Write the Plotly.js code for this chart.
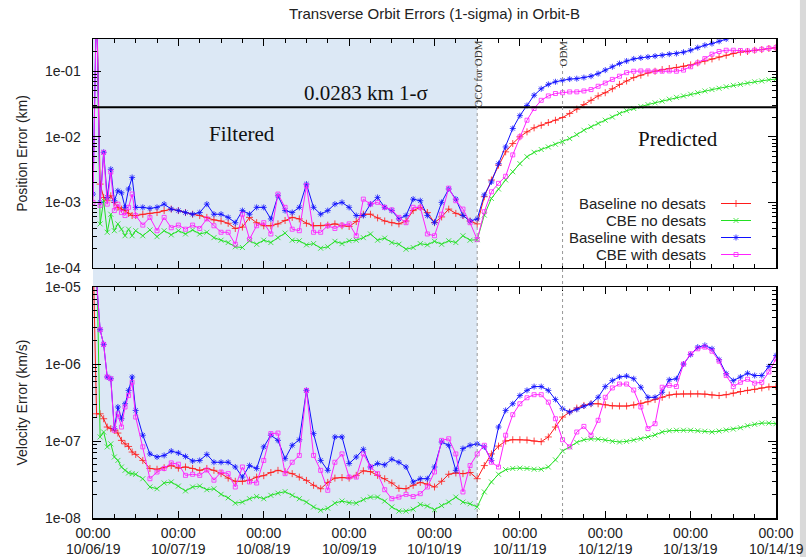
<!DOCTYPE html>
<html><head><meta charset="utf-8">
<script src="https://cdn.plot.ly/plotly-3.0.1.min.js"></script>
<style>html,body{margin:0;padding:0;background:#fff;}#chart{width:806px;height:557px;}</style>
</head><body><div id="chart"></div>
<script>
// time axis: hours since 10/06/19 00:00
const hours = [0,1,2,3,4,5,6,7,8,9,10,11,12,
14,16,18,20,22,24,26,28,30,32,34,36,38,40,42,44,46,48,50,52,54,56,58,60,62,64,66,68,70,72,74,76,78,80,82,84,86,88,90,92,94,96,98,100,102,104,106,108,
110,112,114,116,118,120,122,124,126,128,130,132,134,136,138,140,142,144,146,148,150,152,154,156,158,160,162,164,166,168,170,172,174,176,178,180,182,184,186,188,190,192];

// Position error (km)
const posBaseline = [1.5,1.5,1.9e-3,1.19e-3,1.06e-3,1.26e-3,1e-3,8.4e-4,7.9e-4,7.5e-4,6.8e-4,6.3e-4,6.3e-4,
6.6e-4,6.8e-4,7e-4,7.5e-4,7.9e-4,7.5e-4,7e-4,6.6e-4,6.3e-4,5.9e-4,
5.4e-4,5.2e-4,4.8e-4,4e-4,4.2e-4,5.9e-4,4.9e-4,4.4e-4,4.4e-4,4.7e-4,
5.3e-4,5.9e-4,5.6e-4,4.8e-4,4.4e-4,4.4e-4,4.5e-4,4.7e-4,4.4e-4,4.3e-4,
5.1e-4,6.6e-4,6.6e-4,5.8e-4,5.2e-4,4.9e-4,4.7e-4,5.2e-4,7.5e-4,8.4e-4,
7e-4,4.9e-4,6e-4,7.9e-4,6.8e-4,6.3e-4,5.2e-4,4.7e-4,
1.22e-3,2.19e-3,3.7e-3,5.9e-3,7.9e-3,1e-2,1.19e-2,1.37e-2,1.5e-2,1.65e-2,
1.79e-2,1.97e-2,2.27e-2,2.64e-2,3.1e-2,3.6e-2,4.2e-2,4.7e-2,5.4e-2,6.3e-2,
7.1e-2,8e-2,8.7e-2,9.4e-2,0.1,0.106,0.11,0.114,0.119,0.125,
0.134,0.143,0.154,0.165,0.175,0.186,0.195,0.2,0.209,0.214,0.222,0.229];

const posCBE = [1.5,1.5,4.7e-4,1.06e-3,3.5e-4,6.6e-4,3.7e-4,4.7e-4,3.9e-4,3.1e-4,3.9e-4,3.1e-4,3.7e-4,
3.1e-4,3.8e-4,3e-4,3.7e-4,3.2e-4,3.7e-4,3.3e-4,3.8e-4,3.3e-4,3.5e-4,
2.9e-4,2.65e-4,2.44e-4,2.1e-4,2.05e-4,2.6e-4,2.3e-4,2.65e-4,2.44e-4,2.9e-4,
3.4e-4,2.65e-4,2.6e-4,2.25e-4,2.35e-4,2e-4,2.1e-4,2.55e-4,2.35e-4,2.6e-4,
2.65e-4,2.9e-4,3.3e-4,2.65e-4,2.85e-4,2.44e-4,2.3e-4,1.93e-4,2.05e-4,2.35e-4,
2.25e-4,2.55e-4,2.3e-4,2.6e-4,2.44e-4,3.1e-4,2.65e-4,2.7e-4,
6.4e-4,1.15e-3,1.6e-3,2.2e-3,2.93e-3,3.9e-3,4.96e-3,5.8e-3,6.4e-3,7e-3,
7.7e-3,8.4e-3,9.4e-3,1.08e-2,1.26e-2,1.42e-2,1.6e-2,1.79e-2,2e-2,2.27e-2,
2.5e-2,2.7e-2,2.9e-2,3.1e-2,3.3e-2,3.5e-2,3.75e-2,4e-2,4.2e-2,4.46e-2,
4.7e-2,5e-2,5.25e-2,5.5e-2,5.8e-2,6.1e-2,6.3e-2,6.6e-2,6.9e-2,7.1e-2,7.4e-2,7.6e-2];

const posBaseDesat = [1.34e-3,1.5,1.0e-3,5.8e-3,1.19e-3,3.2e-3,1.06e-3,1.5e-3,1.4e-3,8.4e-4,1.6e-3,2.4e-3,8.4e-4,
8.4e-4,8.1e-4,8.4e-4,9.4e-4,7.9e-4,7.5e-4,7e-4,6.6e-4,7e-4,9.4e-4,
6.6e-4,6.6e-4,5.9e-4,4.9e-4,7.5e-4,6.6e-4,8.4e-4,8.4e-4,5.6e-4,1.26e-3,
7.5e-4,7e-4,8.4e-4,1.9e-3,8.4e-4,6.6e-4,7.5e-4,9.4e-4,1e-3,8.4e-4,
6.3e-4,6.3e-4,9.4e-4,1.19e-3,8.4e-4,7.5e-4,5.6e-4,6.3e-4,1.12e-3,1.06e-3,
6.3e-4,4.9e-4,1e-3,1.6e-3,1.12e-3,6.3e-4,5.2e-4,5.6e-4,
1.3e-3,2.05e-3,3.9e-3,7e-3,1.34e-2,2.1e-2,3e-2,4.3e-2,5.4e-2,6.3e-2,
6.9e-2,7.3e-2,7.6e-2,7.7e-2,8e-2,8.4e-2,9.2e-2,0.104,0.117,0.131,
0.143,0.154,0.16,0.165,0.17,0.175,0.182,0.186,0.195,0.209,
0.229,0.249,0.264,0.286,0.31,0.333,null,null,null,null,null,null];

const posCBEDesat = [1e-3,1.5,9e-4,5.8e-3,9.4e-4,2.9e-3,7.5e-4,9.4e-4,7e-4,6.3e-4,8.4e-4,1.34e-3,6.3e-4,
4.5e-4,5.9e-4,3.7e-4,5.9e-4,4.1e-4,4.5e-4,3.9e-4,4.5e-4,4e-4,5.6e-4,
4.4e-4,3.5e-4,3.5e-4,2.3e-4,6.6e-4,2.75e-4,4.4e-4,4.9e-4,3.3e-4,1.34e-3,
8.4e-4,3.9e-4,3.7e-4,1.8e-3,3.5e-4,3.5e-4,4.4e-4,4e-4,4.5e-4,4.7e-4,
3.1e-4,1.12e-3,9.4e-4,1e-3,8.4e-4,7.7e-4,5.9e-4,4.9e-4,8.4e-4,8.4e-4,
3.3e-4,3.1e-4,6.6e-4,1.65e-3,1.06e-3,7.9e-4,4.9e-4,2.7e-4,
7.2e-4,1.45e-3,1.95e-3,2.5e-3,5.3e-3,1e-2,1.79e-2,2.7e-2,3.6e-2,4.2e-2,
4.57e-2,4.7e-2,4.84e-2,4.84e-2,5e-2,5.25e-2,5.9e-2,6.6e-2,7.5e-2,8.4e-2,
9.5e-2,0.1,0.101,0.101,0.1,0.1,0.101,0.1,0.104,0.117,
0.134,0.156,0.182,0.2,0.209,0.209,0.207,0.204,0.209,0.216,0.224,0.229];

// Velocity error (km/s)
const velBaseline = [3e-5,2.26e-7,2.26e-7,1.95e-7,1.52e-7,1.45e-7,1.38e-7,1.27e-7,1.02e-7,9.2e-8,8.5e-8,7.2e-8,6.7e-8,
5.6e-8,4.4e-8,4.3e-8,4.5e-8,4.8e-8,4.45e-8,4.6e-8,4.4e-8,4.16e-8,4.4e-8,
4.16e-8,3.77e-8,3.3e-8,3e-8,3e-8,3.1e-8,3.4e-8,3.55e-8,3.9e-8,4.16e-8,
4e-8,3.77e-8,3.4e-8,3.08e-8,2.66e-8,2.4e-8,2.9e-8,3.3e-8,3.35e-8,3.3e-8,
3.58e-8,4.1e-8,4e-8,3.58e-8,3.24e-8,2.85e-8,2.43e-8,2.4e-8,2.66e-8,2.9e-8,
2.75e-8,2.53e-8,3e-8,3.7e-8,3.85e-8,3.77e-8,3.9e-8,3.24e-8,
4.8e-8,6.8e-8,8.6e-8,1e-7,1.04e-7,1.04e-7,1.03e-7,1e-7,9.8e-8,1.13e-7,
1.52e-7,2.05e-7,2.38e-7,2.68e-7,2.9e-7,3.05e-7,3.05e-7,2.96e-7,2.87e-7,2.85e-7,
2.85e-7,2.94e-7,3.08e-7,3.24e-7,3.47e-7,3.7e-7,3.96e-7,4.07e-7,4.1e-7,4.1e-7,
4.1e-7,4.07e-7,3.96e-7,3.9e-7,4e-7,4.2e-7,4.4e-7,4.55e-7,4.7e-7,4.9e-7,5.05e-7,5.1e-7];

const velCBE = [3e-5,3e-5,1.13e-7,1.31e-7,8.4e-8,9.2e-8,6.2e-8,5.6e-8,4.6e-8,4.16e-8,3.85e-8,3.77e-8,3.7e-8,
3.24e-8,2.53e-8,2.4e-8,2.85e-8,2.94e-8,2.6e-8,2.25e-8,2.53e-8,2.6e-8,2.33e-8,
2.4e-8,2.03e-8,1.83e-8,1.56e-8,1.61e-8,1.78e-8,1.9e-8,1.78e-8,1.97e-8,2.1e-8,
2.2e-8,1.97e-8,1.78e-8,1.61e-8,1.39e-8,1.26e-8,1.34e-8,1.56e-8,1.66e-8,1.58e-8,
1.56e-8,1.73e-8,1.87e-8,1.87e-8,1.66e-8,1.39e-8,1.23e-8,1.23e-8,1.3e-8,1.5e-8,
1.43e-8,1.28e-8,1.45e-8,1.61e-8,1.87e-8,1.61e-8,1.53e-8,1.39e-8,
2.18e-8,2.94e-8,3.7e-8,4.25e-8,4.4e-8,4.45e-8,4.4e-8,4.3e-8,4.3e-8,4.6e-8,
5.7e-8,7.4e-8,8.4e-8,9.6e-8,1.04e-7,1.07e-7,1.06e-7,1.03e-7,9.9e-8,9.7e-8,
9.9e-8,1.03e-7,1.07e-7,1.13e-7,1.2e-7,1.31e-7,1.36e-7,1.38e-7,1.38e-7,1.38e-7,
1.36e-7,1.34e-7,1.31e-7,1.35e-7,1.39e-7,1.43e-7,1.49e-7,1.58e-7,1.65e-7,1.71e-7,1.71e-7,1.68e-7];

const velBaseDesat = [3e-5,1.2e-5,2.8e-6,1.8e-6,6.8e-7,6.45e-7,1.45e-7,2.77e-7,1.95e-7,3.05e-7,4.55e-7,6.8e-7,2.5e-7,
1.19e-7,6.8e-8,6.2e-8,6.5e-8,7.4e-8,7e-8,6.3e-8,5.5e-8,5.6e-8,6.7e-8,
5.3e-8,5.3e-8,5.3e-8,4.6e-8,3.4e-8,4.8e-8,4.4e-8,8.4e-8,1.19e-7,1.02e-7,
5.9e-8,8.8e-8,1.04e-7,4.55e-7,1.25e-7,5.6e-8,4.16e-8,1.13e-7,1.13e-7,5.1e-8,
6.2e-8,7.8e-8,4.6e-8,5.1e-8,4.9e-8,5.8e-8,5.3e-8,4.6e-8,2.94e-8,3.24e-8,
3.24e-8,4.6e-8,9.7e-8,8.8e-8,4.16e-8,8e-8,8.8e-8,9.2e-8,
8.4e-8,5.6e-8,1.52e-7,2.5e-7,3.05e-7,3.9e-7,4.55e-7,5.1e-7,5.1e-7,4.55e-7,
3.47e-7,2.63e-7,2.38e-7,2.58e-7,2.85e-7,3.05e-7,3.7e-7,5.1e-7,6.1e-7,6.8e-7,
7e-7,6.45e-7,5e-7,3.7e-7,3.7e-7,4.3e-7,6.25e-7,6.45e-7,1e-6,1.33e-6,
1.66e-6,1.75e-6,1.58e-6,1.14e-6,7.5e-7,6.1e-7,6.8e-7,7.6e-7,7.1e-7,7.1e-7,9.3e-7,1.29e-6];

const velCBEDesat = [3e-5,1.2e-5,2.8e-6,1.8e-6,6.8e-7,6.45e-7,1.38e-7,2.26e-7,1.52e-7,2.77e-7,3.9e-7,5.8e-7,2.05e-7,
8.4e-8,3.24e-8,3.96e-8,4.4e-8,5.2e-8,5e-8,3.58e-8,3.7e-8,3.58e-8,4.2e-8,
3.1e-8,3.96e-8,3.77e-8,2.53e-8,4.6e-8,2.94e-8,2.85e-8,5.6e-8,1.25e-7,1.27e-7,
3.77e-8,5.3e-8,6.5e-8,4.55e-7,6.5e-8,4.16e-8,2.29e-8,5.3e-8,6.8e-8,3.4e-8,
3.4e-8,6.8e-8,4.6e-8,3.77e-8,2.33e-8,1.78e-8,1.87e-8,2.03e-8,1.9e-8,2.07e-8,
2.53e-8,3.96e-8,1.02e-7,1.07e-7,6.8e-8,2.18e-8,4.8e-8,6.8e-8,
8.8e-8,5.3e-8,4.6e-8,1.19e-7,2.2e-7,3.05e-7,3.65e-7,4e-7,4e-7,3.2e-7,
1.95e-7,1.04e-7,8.4e-8,1.31e-7,1.55e-7,1.19e-7,1.86e-7,3.7e-7,4.9e-7,5.5e-7,
5.5e-7,4.6e-7,2.77e-7,1.45e-7,1.68e-7,5e-7,5.3e-7,5.1e-7,1e-6,1.36e-6,
1.58e-6,1.66e-6,1.47e-6,1.09e-6,7.1e-7,5.1e-7,5.8e-7,6.35e-7,5.65e-7,5.8e-7,7.9e-7,1.17e-6];

const seriesNames = ['Baseline no desats','CBE no desats','Baseline with desats','CBE with desats'];
const dayTickVals = [0,24,48,72,96,120,144,168,192];
const timeTickText = ['00:00','00:00','00:00','00:00','00:00','00:00','00:00','00:00','00:00'];
const dateTickText = ['10/06/19','10/07/19','10/08/19','10/09/19','10/10/19','10/11/19','10/12/19','10/13/19','10/14/19'];
const posTickVals = [1e-4,1e-3,1e-2,1e-1];
const posTickText = ['1e-04','1e-03','1e-02','1e-01'];
const velTickVals = [1e-8,1e-7,1e-6,1e-5];
const velTickText = ['1e-08','1e-07','1e-06','1e-05'];
const requirement = 0.0283;        // km, 1-sigma
const filterEndHour = 108;         // OCO for ODM
const odmHour = 132;               // ODM

const posData = [posBaseline, posCBE, posBaseDesat, posCBEDesat];
const velData = [velBaseline, velCBE, velBaseDesat, velCBEDesat];
const styles = [
  {color:'#ff1a1a', symbol:'cross-thin-open', size:5},
  {color:'#22e022', symbol:'x-thin-open', size:5},
  {color:'#1010ff', symbol:'asterisk-open', size:5},
  {color:'#ff22ff', symbol:'square-open', size:4}
];
const legendIds = ['legend','legend2','legend3','legend4'];

function minorVals(decades){
  const out=[];
  decades.forEach(d=>{for(let k=2;k<=9;k++) out.push(k*d);});
  return out;
}

const traces = [];
posData.forEach((ys,i)=>{
  const s=styles[i];
  traces.push({x:hours,y:ys,xaxis:'x2',yaxis:'y2',type:'scatter',mode:'lines+markers',
    name:'',showlegend:true,legend:legendIds[i],
    line:{color:s.color,width:1},
    marker:{symbol:s.symbol,size:s.size,color:s.color,line:{color:s.color,width:0.8}}});
});
velData.forEach((ys,i)=>{
  const s=styles[i];
  traces.push({x:hours,y:ys,xaxis:'x',yaxis:'y',type:'scatter',mode:'lines+markers',
    name:'',showlegend:false,
    line:{color:s.color,width:1},
    marker:{symbol:s.symbol,size:s.size,color:s.color,line:{color:s.color,width:0.8}}});
});
traces.push({x:[hours[0],hours[hours.length-1]],y:[requirement,requirement],xaxis:'x2',yaxis:'y2',
  type:'scatter',mode:'lines',line:{color:'#000',width:2},showlegend:false,hoverinfo:'skip'});

const FONT='Liberation Sans, Arial, Helvetica, sans-serif';
const SERIF='Liberation Serif, Times New Roman, serif';
const axisCommon = {showline:true,linecolor:'#000',linewidth:1.5,mirror:'allticks',ticks:'inside',
  showgrid:false,zeroline:false,tickcolor:'#000',tickwidth:1,
  tickfont:{family:FONT,size:14,color:'#222'}};

const xCommon = Object.assign({},axisCommon,{range:[0,192],tickmode:'array',tickvals:dayTickVals,ticktext:timeTickText,ticklen:7,
  minor:{tickmode:'linear',tick0:0,dtick:6,ticks:'inside',ticklen:4,tickcolor:'#000',showgrid:false}});

const layout = {
  width:806,height:557,
  margin:{l:93,r:30,t:39,b:39},
  paper_bgcolor:'#fff',plot_bgcolor:'rgba(0,0,0,0)',
  font:{family:FONT,color:'#222'},
  title:{text:'Transverse Orbit Errors (1-sigma) in Orbit-B',font:{family:FONT,size:15,color:'#222'},
    x:0.5,xref:'paper',xanchor:'center',y:1-14/557,yref:'container',yanchor:'middle'},
  showlegend:true,
  xaxis:Object.assign({},xCommon,{anchor:'y',domain:[0,1],tickfont:{family:FONT,size:14,color:'#222'},ticklabelstandoff:2}),
  xaxis2:Object.assign({},xCommon,{anchor:'y2',domain:[0,1],matches:'x',showticklabels:false}),
  yaxis:Object.assign({},axisCommon,{type:'log',domain:[0,0.482],range:[-8,-5],tickmode:'array',
    tickvals:velTickVals,ticktext:velTickText,ticklen:8,ticklabelstandoff:8,
    minor:{tickmode:'array',tickvals:minorVals([1e-8,1e-7,1e-6]),ticks:'inside',ticklen:4,tickcolor:'#000',showgrid:false},
    title:{text:'Velocity Error (km/s)',font:{family:FONT,size:14,color:'#222'},standoff:14}}),
  yaxis2:Object.assign({},axisCommon,{type:'log',domain:[0.522,1],range:[-4,Math.log10(0.31)],tickmode:'array',
    tickvals:posTickVals,ticktext:posTickText,ticklen:8,ticklabelstandoff:8,
    minor:{tickmode:'array',tickvals:minorVals([1e-4,1e-3,1e-2,1e-1]),ticks:'inside',ticklen:4,tickcolor:'#000',showgrid:false},
    title:{text:'Position Error (km)',font:{family:FONT,size:14,color:'#222'},standoff:14}}),
  shapes:[
    {type:'rect',xref:'x',yref:'paper',x0:hours[0],x1:filterEndHour,y0:0,y1:1,fillcolor:'#dce8f5',line:{width:0},layer:'below'},
    {type:'line',xref:'x',yref:'paper',x0:filterEndHour,x1:filterEndHour,y0:0,y1:1,line:{color:'#999',width:1,dash:'dot'},layer:'above'},
    {type:'line',xref:'x',yref:'paper',x0:odmHour,x1:odmHour,y0:0,y1:1,line:{color:'#999',width:1,dash:'dot'},layer:'above'},
    {type:'rect',xref:'paper',yref:'paper',x0:1.035,x1:1.06,y0:-0.1,y1:1.1,fillcolor:'#d9d9d9',line:{width:0},layer:'above'}
  ],
  annotations:[
    {text:'0.0283 km 1-σ',xref:'paper',yref:'paper',x:0.40,y:0.887,xanchor:'center',yanchor:'middle',showarrow:false,font:{family:SERIF,size:21,color:'#111'}},
    {text:'Filtered',xref:'paper',yref:'paper',x:0.218,y:0.802,xanchor:'center',yanchor:'middle',showarrow:false,font:{family:SERIF,size:21,color:'#111'}},
    {text:'Predicted',xref:'paper',yref:'paper',x:0.857,y:0.791,xanchor:'center',yanchor:'middle',showarrow:false,font:{family:SERIF,size:21,color:'#111'}},
    {text:'OCO for ODM',xref:'x',yref:'paper',x:filterEndHour,y:1,yanchor:'top',xanchor:'center',textangle:-90,showarrow:false,font:{family:SERIF,size:11,color:'#333'}},
    {text:'ODM',xref:'x',yref:'paper',x:odmHour,y:1,yanchor:'top',xanchor:'center',textangle:-90,showarrow:false,font:{family:SERIF,size:11,color:'#333'}}
  ]
};
// date line of the x tick labels
dayTickVals.forEach((v,i)=>{
  layout.annotations.push({text:dateTickText[i],xref:'x',yref:'paper',x:v,y:-(549-518)/479,
    xanchor:'center',yanchor:'middle',borderpad:0,showarrow:false,font:{family:FONT,size:14,color:'#222'}});
});
// legend: one legend per row, labels drawn to the left of the keys
const legendRowsY=[203.5,220.5,237.5,254.5];
seriesNames.forEach((n,i)=>{
  layout[legendIds[i]] = {x:(716-93)/683,xanchor:'left',y:(518-legendRowsY[i])/479,yanchor:'middle',
    bgcolor:'rgba(0,0,0,0)',borderwidth:0,font:{family:FONT,size:11},itemwidth:30};
  layout.annotations.push({text:n,xref:'paper',yref:'paper',x:(707-93)/683,y:(518-legendRowsY[i])/479,
    xanchor:'right',yanchor:'middle',borderpad:0,showarrow:false,font:{family:FONT,size:15,color:'#222'}});
});

Plotly.newPlot('chart',traces,layout,{staticPlot:true,displayModeBar:false});
</script></body></html>
